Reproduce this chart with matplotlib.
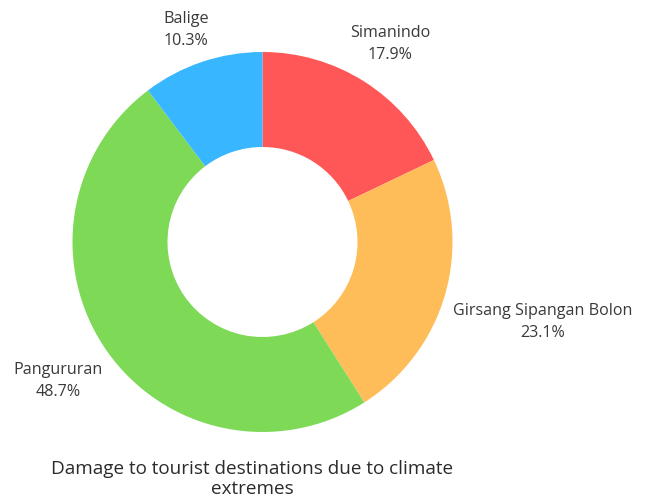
import matplotlib
matplotlib.use("Agg")
import matplotlib.pyplot as plt

# Share of damaged tourist destinations, clockwise from the top
regions = ["Simanindo", "Girsang Sipangan Bolon", "Pangururan", "Balige"]
shares = [17.9, 23.1, 48.7, 10.3]
colors = ["#FF5757", "#FFBD59", "#7ED957", "#38B6FF"]
title = "Damage to tourist destinations due to climate\nextremes"

W, H = 647, 504
R_PX = 190            # outer radius in pixels
CX, CY = 262.5, 242   # donut centre (pixels, from top-left)

# label centres in pixels
label_pos = [(390, 44), (543, 322), (58, 381), (186, 30)]


def to_data(px, py):
    return (px - CX) / R_PX, (CY - py) / R_PX


plt.rcParams["font.family"] = ["Open Sans", "DejaVu Sans"]

fig = plt.figure(figsize=(W / 100, H / 100), dpi=100)
ax = fig.add_axes([0, 0, 1, 1])

wedges, _ = ax.pie(shares, colors=colors, startangle=90, counterclock=False,
                   radius=1.0, wedgeprops=dict(width=0.5, linewidth=0))

for name, val, (px, py) in zip(regions, shares, label_pos):
    x, y = to_data(px, py)
    ax.text(x, y, f"{name}\n{val}%", ha="center", va="center",
            fontsize=11.6, color="#3a3a3a", linespacing=1.55)

tx, ty = to_data(252, 479)
ax.text(tx, ty, title, ha="center", va="center", fontsize=13.6,
        color="#2b2b2b", linespacing=1.08)

ax.set_xlim(-CX / R_PX, (W - CX) / R_PX)
ax.set_ylim((CY - H) / R_PX, CY / R_PX)
ax.set_aspect("auto")
ax.axis("off")

fig.savefig("out.png", dpi=100, facecolor="white")
